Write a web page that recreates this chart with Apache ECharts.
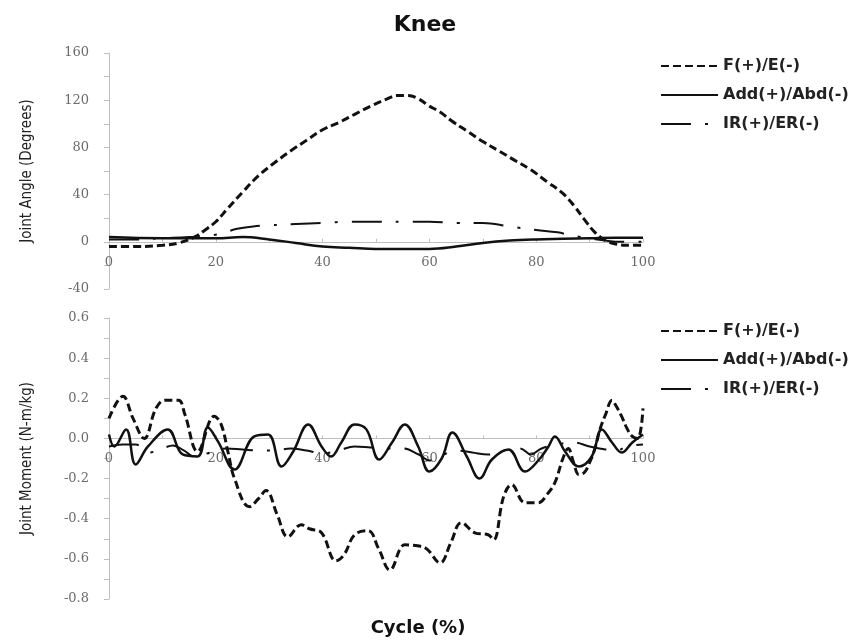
<!DOCTYPE html>
<html>
<head>
<meta charset="utf-8">
<script src="https://cdn.jsdelivr.net/npm/echarts@6/dist/echarts.min.js"></script>
<style>html,body{margin:0;padding:0;background:#fff}#c{width:864px;height:644px}</style>
</head>
<body>
<div id="c"></div>
<script>
// ---------- DATA ----------
const seriesNames = ['F(+)/E(-)', 'Add(+)/Abd(-)', 'IR(+)/ER(-)'];

// Top panel: Joint Angle (Degrees) vs Cycle (%)
const angleF_x = [0, 5, 10, 13, 16, 18, 20, 22, 25, 28, 31, 34, 37, 40, 43, 46, 49, 52, 54, 56, 58, 60, 62, 64, 67, 70, 73, 76, 79, 82, 85, 87, 89, 91, 93, 95, 97, 100];
const angleF_y = [-4, -4, -3, -1, 4, 10, 17, 27, 42, 56, 67, 77, 86, 95, 101, 108, 115, 121, 124, 124, 121, 115, 110, 103, 94, 85, 77, 69, 61, 51, 41, 31, 19, 8, 1, -2, -3, -3];

const angleAdd_x = [0, 10, 20, 25, 30, 35, 40, 45, 50, 55, 60, 65, 70, 75, 80, 85, 90, 95, 100];
const angleAdd_y = [4, 3, 3, 4, 2, -1, -4, -5, -6, -6, -6, -4, -1, 1, 2, 2.5, 3, 3.5, 3.5];

const angleIR_x = [0, 5, 10, 15, 18, 21, 24, 27, 30, 35, 40, 45, 50, 55, 60, 65, 70, 75, 80, 84, 87, 90, 93, 96, 100];
const angleIR_y = [2, 2, 3, 4, 5, 7, 11, 13, 14, 15, 16, 17, 17, 17, 17, 16, 16, 13, 10, 8, 5, 3, 1, 0, 0];

// Bottom panel: Joint Moment (N-m/kg) vs Cycle (%)
const momF_x = [0, 2.6, 4.5, 6.6, 8.8, 10.5, 13, 14.2, 16.6, 19.7, 21, 22.3, 23.5, 26.3, 28, 29.4, 31.5, 33.5, 36, 37.5, 39.8, 42.5, 44, 46, 48.5, 50.5, 52.6, 55.4, 57.8, 59.5, 62, 64, 66, 68.5, 71, 72, 73.9, 75.4, 77.9, 80.4, 82, 83.5, 85, 86, 87, 88, 89, 90, 91, 92, 93, 94.2, 95, 96, 97, 98, 99, 100];
const momF_y = [0.1, 0.21, 0.1, 0.0, 0.15, 0.19, 0.19, 0.12, -0.065, 0.11, 0.07, -0.07, -0.2, -0.34, -0.3, -0.26, -0.38, -0.49, -0.43, -0.45, -0.47, -0.61, -0.58, -0.48, -0.46, -0.55, -0.655, -0.53, -0.535, -0.55, -0.62, -0.52, -0.42, -0.47, -0.48, -0.505, -0.29, -0.23, -0.32, -0.32, -0.28, -0.22, -0.1, -0.05, -0.12, -0.18, -0.17, -0.12, -0.05, 0.05, 0.12, 0.19, 0.16, 0.11, 0.05, 0.01, 0.0, 0.15];

const momAdd_x = [0, 1, 3.2, 5, 7.3, 11, 13.8, 16.6, 18.5, 20.4, 23.5, 27.2, 29.8, 32.3, 34.5, 37.3, 39.8, 41.6, 43.5, 46, 48.2, 50.6, 53, 55.4, 57.9, 60, 62.3, 64.3, 67, 69.4, 71.7, 74.8, 77.9, 80.4, 82.3, 83.5, 85.4, 88, 90.4, 92.3, 94.2, 96, 98, 100];
const momAdd_y = [0.02, -0.04, 0.045, -0.13, -0.04, 0.045, -0.08, -0.09, 0.055, -0.015, -0.155, 0.01, 0.02, -0.14, -0.065, 0.07, -0.04, -0.09, -0.02, 0.07, 0.045, -0.105, -0.02, 0.07, -0.04, -0.165, -0.1, 0.03, -0.09, -0.2, -0.105, -0.055, -0.165, -0.11, -0.04, 0.01, -0.065, -0.14, -0.09, 0.045, -0.02, -0.07, -0.02, 0.02];

const momIR_x = [0, 2.5, 5, 7.5, 10, 12, 14, 16, 19, 22, 25, 28, 31, 34, 37, 40, 43, 46, 49, 52, 55, 58, 60, 62, 65, 68, 71, 74, 77, 79, 81, 84, 87, 90, 93, 95, 97, 100];
const momIR_y = [-0.04, -0.03, -0.03, -0.07, -0.05, -0.035, -0.06, -0.09, -0.07, -0.05, -0.055, -0.06, -0.06, -0.05, -0.06, -0.075, -0.06, -0.04, -0.045, -0.05, -0.05, -0.08, -0.11, -0.09, -0.06, -0.07, -0.08, -0.06, -0.05, -0.08, -0.05, -0.03, -0.02, -0.04, -0.055, -0.06, -0.04, -0.03];

// ---------- CHART ----------
const zip = (xs, ys) => xs.map((x, i) => [x, ys[i]]);
const lineColor = '#111';
const axisGray = '#bfbfbf';
const labelGray = '#6b6b6b';

const grids = [
  { left: 109, width: 534, top: 53, height: 236, yMin: -40, yMax: 160 },
  { left: 109, width: 534, top: 318, height: 281, yMin: -0.8, yMax: 0.6 }
];
// distance from grid bottom up to the y = 0 line (so the x axis sits on zero)
const zeroOffset = g => -g.height * (0 - g.yMin) / (g.yMax - g.yMin);

function lineSeries(name, grid, xs, ys, type, width) {
  return {
    name: name, type: 'line', xAxisIndex: grid, yAxisIndex: grid,
    data: zip(xs, ys), smooth: 0.4, showSymbol: false, symbol: 'none',
    lineStyle: { color: lineColor, width: width, type: type },
    itemStyle: { color: lineColor },
    animation: false
  };
}

const dashF = [8, 4];
const dashIR = [30, 14, 3, 14];

function xAxisCfg(gi) {
  return {
    gridIndex: gi, type: 'value', min: 0, max: 100, interval: 20,
    offset: zeroOffset(grids[gi]),
    axisLine: { onZero: false, lineStyle: { color: axisGray, width: 1 } },
    axisTick: { inside: true, length: 3, lineStyle: { color: axisGray } },
    minorTick: { show: true, splitNumber: 2, length: 3, lineStyle: { color: axisGray } },
    axisLabel: { margin: 14, color: labelGray, fontSize: 13, fontFamily: 'DejaVu Serif' },
    splitLine: { show: false }
  };
}
function yAxisCfg(gi, interval, name, fmt) {
  const g = grids[gi];
  return {
    gridIndex: gi, type: 'value', min: g.yMin, max: g.yMax, interval: interval,
    name: name, nameLocation: 'middle', nameGap: 74, nameRotate: 90,
    nameTextStyle: { color: '#222', fontSize: 15, fontFamily: 'Liberation Sans Narrow, DejaVu Sans Condensed, Liberation Sans, sans-serif' },
    axisLine: { show: true, onZero: false, lineStyle: { color: axisGray, width: 1 } },
    axisTick: { show: true, length: 5, lineStyle: { color: axisGray } },
    minorTick: { show: true, splitNumber: 2, length: 5, lineStyle: { color: axisGray } },
    axisLabel: { margin: 20, color: labelGray, fontSize: 13, fontFamily: 'DejaVu Serif', formatter: fmt },
    splitLine: { show: false }
  };
}

const legendBase = {
  orient: 'vertical', left: 655, itemWidth: 57, itemHeight: 14, itemGap: 13,
  itemStyle: { opacity: 0 },
  textStyle: { fontSize: 16, fontWeight: 'bold', color: '#222', fontFamily: 'DejaVu Sans', padding: [0, 0, 0, 0] },
  data: seriesNames
};

const option = {
  backgroundColor: '#fff',
  animation: false,
  grid: grids.map(g => ({ left: g.left, width: g.width, top: g.top, height: g.height })),
  xAxis: [xAxisCfg(0), xAxisCfg(1)],
  yAxis: [
    yAxisCfg(0, 40, 'Joint Angle (Degrees)', v => String(v)),
    yAxisCfg(1, 0.2, 'Joint Moment (N-m/kg)', v => v.toFixed(1))
  ],
  legend: [
    Object.assign({}, legendBase, { top: 53 }),
    Object.assign({}, legendBase, { top: 318 })
  ],
  graphic: [
    { type: 'text', x: 425, y: 25, style: { text: 'Knee', align: 'center', verticalAlign: 'middle', font: 'bold 22px "DejaVu Sans"', fill: '#111' } },
    { type: 'text', x: 418, y: 628, style: { text: 'Cycle (%)', align: 'center', verticalAlign: 'middle', font: 'bold 18px "DejaVu Sans"', fill: '#111' } }
  ],
  series: [
    lineSeries(seriesNames[0], 0, angleF_x, angleF_y, dashF, 3),
    lineSeries(seriesNames[1], 0, angleAdd_x, angleAdd_y, 'solid', 2.5),
    lineSeries(seriesNames[2], 0, angleIR_x, angleIR_y, dashIR, 2),
    lineSeries(seriesNames[0], 1, momF_x, momF_y, dashF, 3),
    lineSeries(seriesNames[1], 1, momAdd_x, momAdd_y, 'solid', 2.5),
    lineSeries(seriesNames[2], 1, momIR_x, momIR_y, dashIR, 2)
  ]
};

const chart = echarts.init(document.getElementById('c'), null, { renderer: 'canvas' });
chart.setOption(option);
</script>
</body>
</html>
